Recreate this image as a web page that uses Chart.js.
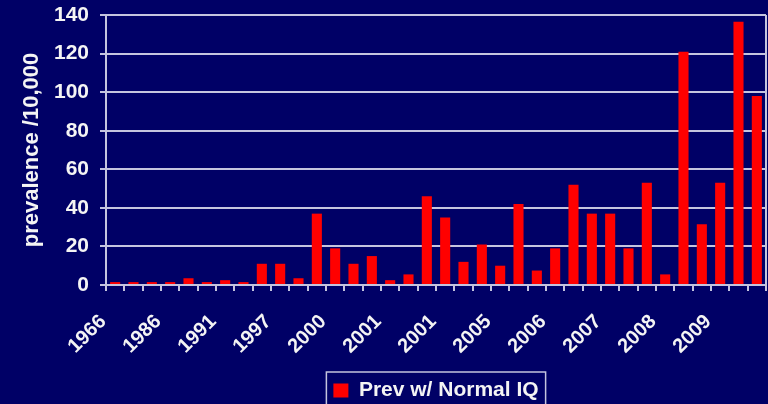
<!DOCTYPE html>
<html>
<head>
<meta charset="utf-8">
<script src="https://cdn.jsdelivr.net/npm/chart.js@4.4.1/dist/chart.umd.min.js"></script>
<style>
  html, body { margin: 0; padding: 0; background: #000066; }
  #wrap { width: 768px; height: 404px; position: relative; }
</style>
</head>
<body>
<div id="wrap"><canvas id="chart"></canvas></div>
<script>
// categories (only every third one carries a label in the original)
const categories = ['1966', '', '', '1986', '', '', '1991', '', '', '1997', '', '',
  '2000', '', '', '2001', '', '', '2001', '', '', '2005', '', '',
  '2006', '', '', '2007', '', '', '2008', '', '', '2009', '', ''];

// prevalence per 10,000
const prevNormalIQ = [1.5, 1.5, 1.5, 1.5, 3.5, 1.5, 2.5, 1.5, 11, 11, 3.5, 37,
  19, 11, 15, 2.5, 5.5, 46, 35, 12, 21, 10, 42, 7.5,
  19, 52, 37, 37, 19, 53, 5.5, 121, 31.5, 53, 136.5, 98];

const seriesName = 'Prev w/ Normal IQ';
const yMin = 0;
const yMax = 140;
const yStep = 20;

const lineColor = '#c4c4de';
const textColor = '#f4f4f4';
const fontFamily = "'Liberation Sans', Arial, sans-serif";

// drop the extra room chart.js keeps for overhanging tick labels
function noOverhang(scale) {
  scale.paddingTop = 0;
  scale.paddingBottom = 0;
  scale.paddingLeft = 0;
  scale.paddingRight = 0;
}

// right edge of the plot frame
const plotFrame = {
  id: 'plotFrame',
  afterDraw(chart) {
    const { ctx, chartArea } = chart;
    ctx.save();
    ctx.strokeStyle = lineColor;
    ctx.lineWidth = 2;
    ctx.beginPath();
    ctx.moveTo(chartArea.right, chartArea.top);
    ctx.lineTo(chartArea.right, chartArea.bottom);
    ctx.stroke();
    ctx.restore();
  }
};

// box drawn round the legend
const legendBorder = {
  id: 'legendBorder',
  afterDraw(chart) {
    const hb = chart.legend.legendHitBoxes[0];
    if (!hb) return;
    const ctx = chart.ctx;
    ctx.save();
    ctx.strokeStyle = lineColor;
    ctx.lineWidth = 1.5;
    ctx.strokeRect(hb.left - 7, hb.top - 8, hb.width + 14, 60);
    ctx.restore();
  }
};

const ctx = document.getElementById('chart');
new Chart(ctx, {
  type: 'bar',
  data: {
    labels: categories,
    datasets: [{
      label: seriesName,
      data: prevNormalIQ,
      backgroundColor: '#ff0000',
      borderWidth: 0,
      categoryPercentage: 1,
      barPercentage: 0.55
    }]
  },
  options: {
    responsive: true,
    maintainAspectRatio: false,
    animation: false,
    layout: { padding: { top: 15, right: 2, left: 0, bottom: -7 } },
    plugins: {
      tooltip: { enabled: false },
      legend: {
        position: 'bottom',
        fullSize: false,
        labels: {
          color: textColor,
          boxWidth: 15,
          boxHeight: 14,
          padding: 15,
          font: { family: fontFamily, size: 21, weight: 'bold' }
        }
      }
    },
    scales: {
      x: {
        afterFit(scale) {
          scale.height = 80;
          noOverhang(scale);
        },
        grid: {
          display: true,
          drawOnChartArea: false,
          color: lineColor,
          lineWidth: 2,
          tickLength: 6
        },
        border: { color: lineColor, width: 2 },
        ticks: {
          autoSkip: false,
          minRotation: 45,
          maxRotation: 45,
          padding: 19,
          labelOffset: -12,
          color: textColor,
          font: { family: fontFamily, size: 20, weight: 'bold' }
        }
      },
      y: {
        min: yMin,
        max: yMax,
        afterFit(scale) {
          scale.width = 106;
          noOverhang(scale);
        },
        grid: { color: lineColor, lineWidth: 2, tickLength: 6 },
        border: { color: lineColor, width: 2 },
        ticks: {
          stepSize: yStep,
          padding: 11,
          color: textColor,
          font: { family: fontFamily, size: 21, weight: 'bold' }
        },
        title: {
          display: true,
          text: 'prevalence /10,000',
          color: textColor,
          padding: { top: 19, bottom: 0 },
          font: { family: fontFamily, size: 22, weight: 'bold' }
        }
      }
    }
  },
  plugins: [plotFrame, legendBorder]
});
</script>
</body>
</html>
